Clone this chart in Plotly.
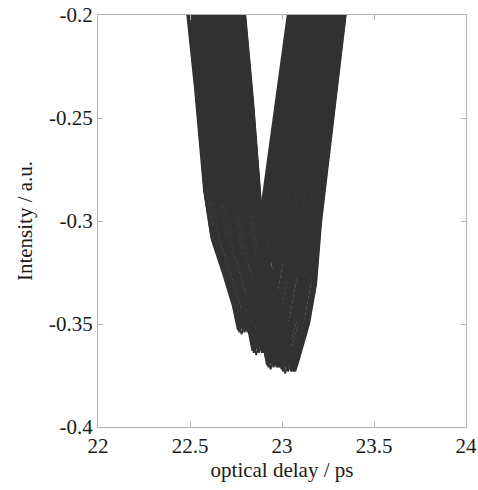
import plotly.graph_objects as go

# Base pulse profile (time offset from the -0.2 crossing, intensity)
pulse_dt = [-0.03, 0.0, 0.043, 0.092, 0.13, 0.19, 0.245, 0.272, 0.293, 0.348, 0.386, 0.413, 0.495, 0.549, 0.58]
pulse_y = [-0.17, -0.2, -0.241, -0.297, -0.322, -0.340, -0.358, -0.371, -0.365, -0.348, -0.329, -0.2995, -0.241, -0.2, -0.175]

# The traces fall into four groups of delays (left crossing of -0.2)
group_delay = [22.484, 22.563, 22.642, 22.721]
group_min = [-0.351, -0.361, -0.368, -0.370]
# Delay offsets inside a group and the small scatter of each trace's minimum
trace_offset = [0.000, 0.004, 0.008, 0.012, 0.016, 0.020, 0.024, 0.028, 0.032, 0.036, 0.040, 0.044,
                0.048, 0.052, 0.056, 0.059, 0.062, 0.065, 0.068, 0.071, 0.073, 0.075, 0.077, 0.079]
trace_min_shift = [0.001, -0.002, 0.000, -0.003, 0.002, -0.001, -0.004, 0.001, -0.002, 0.000, -0.003, 0.001,
                   -0.001, 0.002, -0.003, -0.002, 0.001, -0.003, 0.000, -0.002, -0.003, 0.001, -0.002, -0.003]

x_ticks = [22, 22.5, 23, 23.5, 24]
x_labels = ["22", "22.5", "23", "23.5", "24"]
y_ticks = [-0.4, -0.35, -0.3, -0.25, -0.2]
y_labels = ["-0.4", "-0.35", "-0.3", "-0.25", "-0.2"]

base_depth = min(pulse_y) + 0.2

fig = go.Figure()
for gd, gm in zip(group_delay, group_min):
    for off, dm in zip(trace_offset, trace_min_shift):
        d = gd + off
        m = gm + dm
        r = (m + 0.2) / base_depth
        fig.add_trace(go.Scatter(
            x=[d + t for t in pulse_dt],
            y=[-0.2 + (v + 0.2) * r for v in pulse_y],
            mode="lines",
            line=dict(color="rgb(50,50,50)", width=1.8),
            showlegend=False,
            hoverinfo="skip",
        ))

font = dict(family="Liberation Serif", size=21, color="#1a1a1a")
axis_common = dict(
    showgrid=False, zeroline=False, showline=True, mirror="ticks",
    linecolor="#b4b4b4", linewidth=1, ticks="inside", ticklen=5,
    tickcolor="#b4b4b4", tickwidth=1, automargin=False,
    tickfont=font,
)

fig.update_layout(
    width=478, height=490,
    margin=dict(l=98, r=12, t=15, b=63),
    paper_bgcolor="white", plot_bgcolor="white",
    xaxis=dict(range=[22, 24], tickvals=x_ticks, ticktext=x_labels,
               title=dict(text="optical delay / ps", standoff=4, font=font),
               **axis_common),
    yaxis=dict(range=[-0.4, -0.2], tickvals=y_ticks, ticktext=y_labels,
               title=dict(text="Intensity / a.u.", standoff=10, font=font),
               **axis_common),
)

fig.write_html("out.html")
